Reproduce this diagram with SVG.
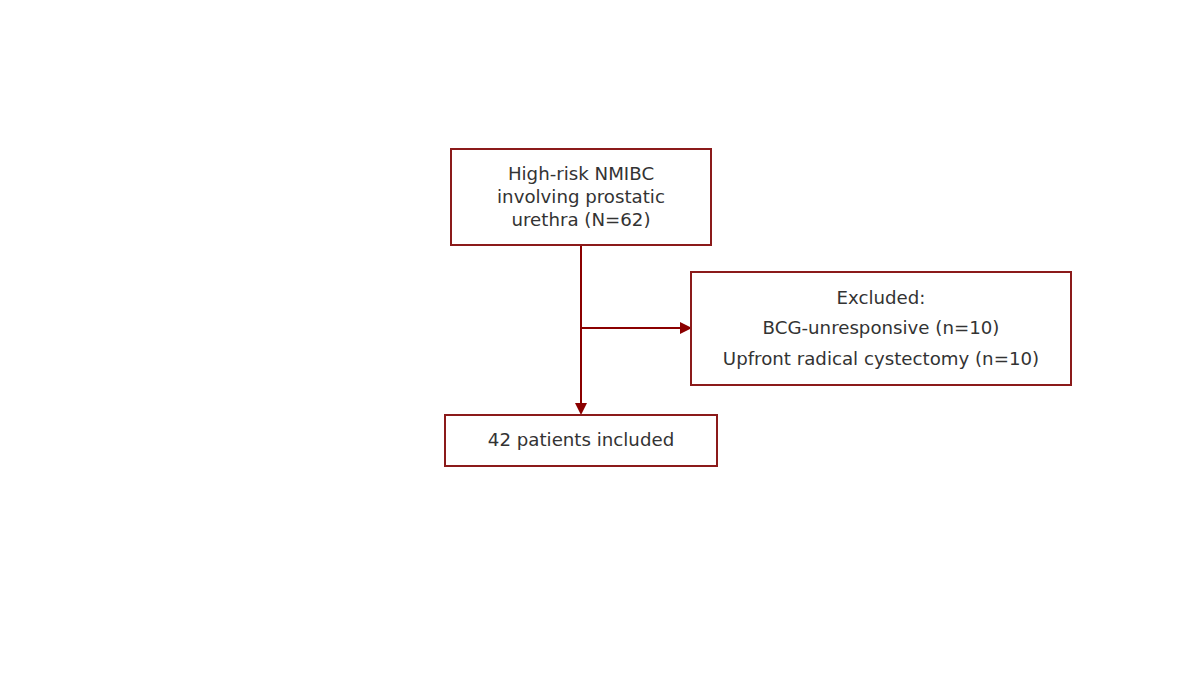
<svg xmlns="http://www.w3.org/2000/svg" width="1200" height="675" viewBox="0 0 1200 675">
<style>
.box{fill:#fff;stroke:#8b1a1a;stroke-width:2}
.t{font-family:"DejaVu Sans",sans-serif;font-size:18.2px;fill:#333;text-anchor:middle}
.c{stroke:#8b0000;stroke-width:2;fill:none}
</style>
<rect width="1200" height="675" fill="#fff"/>
<g id="connectors">
<path class="c" d="M581,245 V403"/>
<path d="M575,403 L587,403 L581,415 Z" fill="#8b0000"/>
<path class="c" d="M581,328 H680"/>
<path d="M680,322 L692,328 L680,334 Z" fill="#8b0000"/>
</g>
<g id="n1">
<rect class="box" x="451" y="149" width="260" height="96"/>
<text class="t" x="581" y="180">High-risk NMIBC</text>
<text class="t" x="581" y="203">involving prostatic</text>
<text class="t" x="581" y="226">urethra (N=62)</text>
</g>
<g id="n2">
<rect class="box" x="691" y="272" width="380" height="113"/>
<text class="t" x="881" y="304">Excluded:</text>
<text class="t" x="881" y="334">BCG-unresponsive (n=10)</text>
<text class="t" x="881" y="365">Upfront radical cystectomy (n=10)</text>
</g>
<g id="n3">
<rect class="box" x="445" y="415" width="272" height="51"/>
<text class="t" x="581" y="446">42 patients included</text>
</g>
</svg>
